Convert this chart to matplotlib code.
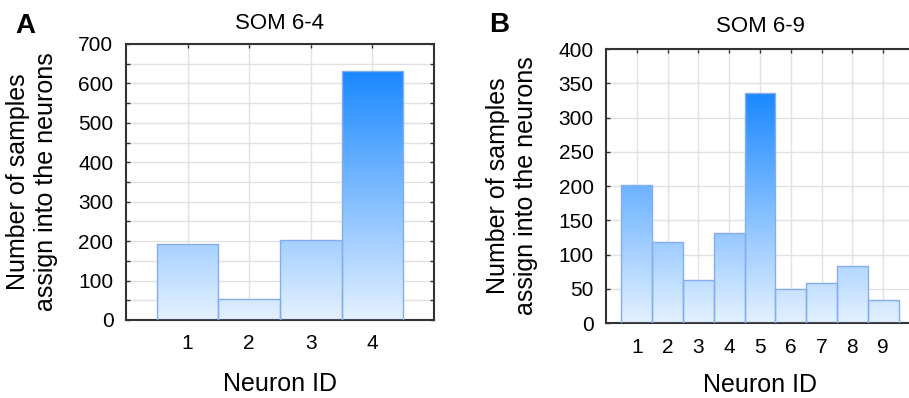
# Histogram of samples per SOM neuron, two panels

import numpy as np
import matplotlib.pyplot as plt
from matplotlib.colors import LinearSegmentedColormap
from matplotlib.ticker import MultipleLocator

plt.rcParams['font.family'] = ['Liberation Sans', 'DejaVu Sans']

neurons_a = [1, 2, 3, 4]
counts_a = [193, 53, 203, 632]

neurons_b = [1, 2, 3, 4, 5, 6, 7, 8, 9]
counts_b = [202, 119, 63, 132, 336, 50, 58, 83, 33]

grad = LinearSegmentedColormap.from_list('grad', ['#e4f1ff', '#1a88ff'])


def gradient_bars(ax, xs, hs):
    hmax = max(hs)
    for x, h in zip(xs, hs):
        bar = ax.bar(x, h, width=1.0, color='none', edgecolor='#86acf0',
                     linewidth=1.0, zorder=3)[0]
        col = np.linspace(0, h / hmax, 256).reshape(-1, 1)
        im = ax.imshow(col, cmap=grad, vmin=0, vmax=1, origin='lower',
                       extent=(x - 0.5, x + 0.5, 0, h), aspect='auto',
                       interpolation='bilinear', zorder=1)
        im.set_clip_path(bar)


def style_axes(ax, ymax, ystep, ylab_step, xpad, lpad):
    ax.set_axisbelow(True)
    for s in ax.spines.values():
        s.set_color('#333333')
        s.set_linewidth(1.5)
    ax.yaxis.set_major_locator(MultipleLocator(ylab_step))
    ax.yaxis.set_minor_locator(MultipleLocator(ystep))
    ax.set_ylim(0, ymax)
    ax.grid(True, which='both', color='#e2e2e2', linewidth=1.0)
    ax.tick_params(which='both', direction='in', top=True, right=True,
                   length=3, width=1.0, color='#333333', labelsize=15)
    ax.tick_params(axis='x', pad=xpad)
    ax.tick_params(axis='y', pad=9)
    ax.set_ylabel('Number of samples\nassign into the neurons', fontsize=18)
    ax.yaxis.set_label_coords(-0.22, 0.5)
    ax.set_xlabel('Neuron ID', fontsize=18, labelpad=lpad)


fig = plt.figure(figsize=(9.09, 3.98), dpi=100)

ax1 = fig.add_axes([0.1386, 0.196, 0.3388, 0.6935])
gradient_bars(ax1, neurons_a, counts_a)
style_axes(ax1, 700, 50, 100, 10, 14)
ax1.set_xlim(0, 5)
ax1.set_xticks(neurons_a)
ax1.set_title('SOM 6-4', fontsize=16, pad=11)

ax2 = fig.add_axes([0.6667, 0.1884, 0.3388, 0.6884])
gradient_bars(ax2, neurons_b, counts_b)
style_axes(ax2, 400, 50, 50, 11, 11)
ax2.set_xlim(0, 10)
ax2.set_xticks(neurons_b)
ax2.set_title('SOM 6-9', fontsize=16, pad=12)

fig.text(25 / 909, 1 - 26 / 398, 'A', fontsize=20, fontweight='bold',
         ha='center', va='center')
fig.text(499 / 909, 1 - 25 / 398, 'B', fontsize=20, fontweight='bold',
         ha='center', va='center')

fig.savefig('out.png', dpi=100)
